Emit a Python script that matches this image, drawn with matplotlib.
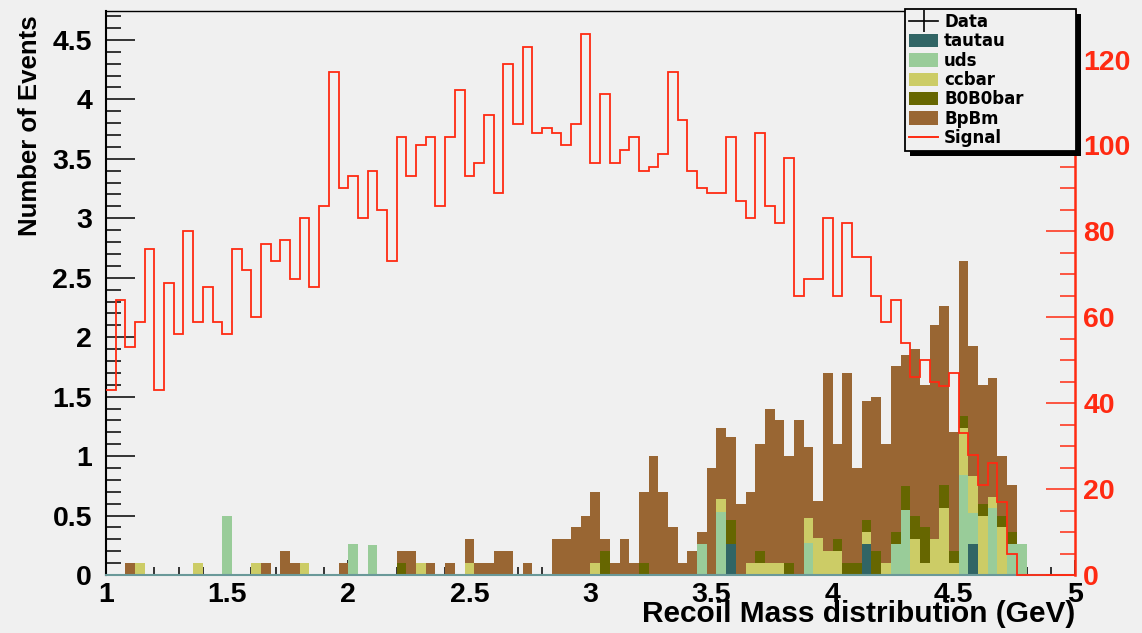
import matplotlib.pyplot as plt
import numpy as np
from matplotlib.lines import Line2D
from matplotlib.patches import Patch, Rectangle
from matplotlib.ticker import FixedLocator, FixedFormatter, MultipleLocator
from matplotlib.transforms import IdentityTransform

plt.rcParams['font.family'] = ['Liberation Sans', 'DejaVu Sans']
plt.rcParams['font.weight'] = 'bold'
plt.rcParams['axes.labelweight'] = 'bold'

# binning: 100 bins between 1 and 5 GeV
edges = np.linspace(1.0, 5.0, 101)

# background samples (weighted events per bin), stacked bottom to top
tautau = [0] * 64 + [0.26] + [0] * 13 + [0.26] + [0] * 10 + [0.26] + [0] * 10

uds = [0, 0, 0, 0, 0, 0, 0, 0, 0, 0,
       0, 0, 0.5, 0, 0, 0, 0, 0, 0, 0,
       0, 0, 0, 0, 0, 0.26, 0, 0.25, 0, 0,
       0, 0, 0, 0, 0, 0, 0, 0, 0, 0,
       0, 0, 0, 0, 0, 0, 0, 0, 0, 0,
       0, 0, 0, 0, 0, 0, 0, 0, 0, 0,
       0, 0.26, 0, 0.53, 0, 0, 0, 0, 0, 0,
       0, 0, 0.27, 0, 0, 0, 0, 0, 0, 0,
       0, 0.26, 0.55, 0, 0, 0, 0, 0, 0.84, 0.26,
       0, 0.56, 0, 0.26, 0.26, 0, 0, 0, 0, 0]

ccbar = [0, 0, 0, 0.1, 0, 0, 0, 0, 0, 0.1,
         0, 0, 0, 0, 0, 0.1, 0, 0, 0, 0,
         0.1, 0, 0, 0, 0, 0, 0, 0, 0, 0,
         0, 0, 0.1, 0, 0, 0, 0, 0.1, 0, 0,
         0, 0, 0, 0, 0, 0, 0, 0, 0, 0,
         0.1, 0, 0, 0, 0, 0, 0, 0, 0, 0,
         0, 0, 0, 0.11, 0, 0, 0.1, 0.1, 0.1, 0.1,
         0, 0, 0.21, 0.31, 0.2, 0.2, 0, 0, 0.1, 0,
         0.1, 0, 0, 0.3, 0.1, 0.3, 0.56, 0.1, 0.4, 0.31,
         0.5, 0.1, 0.4, 0, 0, 0, 0, 0, 0, 0]

b0b0bar = [0, 0, 0, 0, 0, 0, 0, 0, 0, 0,
           0, 0, 0, 0, 0, 0, 0, 0, 0, 0,
           0, 0, 0, 0, 0, 0, 0, 0, 0, 0,
           0.1, 0, 0, 0, 0, 0, 0, 0, 0, 0,
           0, 0, 0, 0, 0, 0, 0, 0, 0, 0,
           0, 0.2, 0, 0, 0, 0.1, 0, 0, 0, 0,
           0, 0, 0, 0, 0.2, 0, 0, 0.1, 0, 0,
           0.1, 0, 0, 0, 0, 0.1, 0.1, 0.1, 0.1, 0.2,
           0, 0.1, 0.2, 0.2, 0.3, 0, 0.2, 0.1, 0.1, 0,
           0.1, 0, 0.1, 0.1, 0, 0, 0, 0, 0, 0]

bpbm = [0, 0, 0.1, 0, 0, 0, 0, 0, 0, 0,
        0, 0, 0, 0, 0, 0, 0.1, 0, 0.2, 0.1,
        0, 0, 0, 0, 0.1, 0, 0, 0, 0, 0,
        0.1, 0.2, 0, 0.1, 0, 0.1, 0, 0.2, 0.1, 0.1,
        0.2, 0.2, 0, 0.1, 0, 0, 0.3, 0.3, 0.4, 0.5,
        0.6, 0.1, 0.1, 0.3, 0.1, 0.6, 1.0, 0.7, 0.4, 0.1,
        0.2, 0.1, 0.9, 0.6, 0.7, 0.6, 0.6, 0.9, 1.3, 1.2,
        0.9, 1.3, 0.6, 0.31, 1.5, 0.8, 1.6, 0.8, 1.0, 1.3,
        1.0, 1.4, 1.1, 1.4, 1.2, 1.8, 1.5, 1.0, 1.3, 1.1,
        1.0, 1.0, 0.5, 0.4, 0, 0, 0, 0, 0, 0]

# signal MC, read on the right-hand axis
signal = [43, 64, 53, 59, 76, 43, 68, 56, 80, 59,
          67, 59, 56, 76, 71, 60, 77, 73, 78, 69,
          83, 67, 86, 117, 90, 93, 83, 94, 85, 73,
          102, 93, 100, 102, 86, 102, 113, 93, 96, 107,
          89, 119, 105, 123, 103, 104, 103, 100, 105, 126,
          96, 112, 96, 99, 102, 94, 95, 98, 117, 106,
          94, 90, 89, 89, 102, 87, 83, 103, 86, 82,
          97, 65, 69, 69, 83, 65, 82, 74, 74, 65,
          59, 64, 54, 46, 50, 45, 44, 47, 33, 28,
          21, 26, 17, 5, 0, 0, 0, 0, 0, 0]

sample_names = ['tautau', 'uds', 'ccbar', 'B0B0bar', 'BpBm']
sample_colors = ['#316565', '#99cc99', '#cccc66', '#666600', '#996633']
signal_color = '#ff2a12'
bg_color = '#f0f0f0'

x_ticks = [1, 1.5, 2, 2.5, 3, 3.5, 4, 4.5, 5]
x_tick_labels = ['1', '1.5', '2', '2.5', '3', '3.5', '4', '4.5', '5']
y_ticks = [0, 0.5, 1, 1.5, 2, 2.5, 3, 3.5, 4, 4.5]
y_tick_labels = ['0', '0.5', '1', '1.5', '2', '2.5', '3', '3.5', '4', '4.5']
sig_ticks = [0, 20, 40, 60, 80, 100, 120]
sig_tick_labels = ['0', '20', '40', '60', '80', '100', '120']

fig = plt.figure(figsize=(11.42, 6.33), dpi=100, facecolor=bg_color)
ax = fig.add_axes([0.0928, 0.0916, 0.8485, 0.891])
ax.set_facecolor(bg_color)
ax.set_axisbelow(True)

# stacked backgrounds
bottom = np.zeros(len(edges) - 1)
for name, vals, col in zip(sample_names, [tautau, uds, ccbar, b0b0bar, bpbm], sample_colors):
    vals = np.asarray(vals, dtype=float)
    ax.bar(edges[:-1], vals, width=np.diff(edges), bottom=bottom, align='edge',
           color=col, edgecolor='none', linewidth=0)
    bottom += vals

ax.set_xlim(1, 5)
ax.set_ylim(0, 4.743)
ax.xaxis.set_major_locator(FixedLocator(x_ticks))
ax.xaxis.set_major_formatter(FixedFormatter(x_tick_labels))
ax.xaxis.set_minor_locator(MultipleLocator(0.1))
ax.yaxis.set_major_locator(FixedLocator(y_ticks))
ax.yaxis.set_major_formatter(FixedFormatter(y_tick_labels))
ax.yaxis.set_minor_locator(MultipleLocator(0.1))

ax.tick_params(axis='y', which='major', direction='in', length=21, width=1.1,
               labelsize=20.5, pad=10)
ax.tick_params(axis='y', which='minor', direction='in', length=10.8, width=1.1)
ax.tick_params(axis='x', which='major', direction='in', length=11, width=1.1,
               labelsize=20.5, pad=5)
ax.tick_params(axis='x', which='minor', direction='in', length=6, width=1.1)

ax.spines['right'].set_visible(False)
ax.spines['left'].set_linewidth(1.5)
ax.spines['top'].set_linewidth(1.0)
ax.spines['bottom'].set_color('#6a9999')
ax.spines['bottom'].set_linewidth(1.5)

ax.set_ylabel('Number of Events', fontsize=18.5, loc='top')
ax.yaxis.set_label_coords(-0.066, 0.993)
ax.set_xlabel('Recoil Mass distribution (GeV)', fontsize=21.5, loc='right')
ax.xaxis.set_label_coords(1.0, -0.045)

# signal on its own scale
ax2 = ax.twinx()
ax2.stairs(signal, edges, color=signal_color, linewidth=1.3, baseline=None, clip_on=False)
ax2.set_ylim(0, 131.3)
ax2.yaxis.set_major_locator(FixedLocator(sig_ticks))
ax2.yaxis.set_major_formatter(FixedFormatter(sig_tick_labels))
ax2.yaxis.set_minor_locator(MultipleLocator(5))
ax2.tick_params(axis='y', which='major', direction='in', length=21, width=1.1,
                colors=signal_color, labelsize=20.5, pad=6)
ax2.tick_params(axis='y', which='minor', direction='in', length=10.8, width=1.1,
                colors=signal_color)
for side in ['left', 'top', 'bottom']:
    ax2.spines[side].set_visible(False)
ax2.spines['right'].set_color(signal_color)
ax2.spines['right'].set_linewidth(1.8)

handles = [Line2D([], [], color='k', lw=1.2, marker='|', markersize=16, markeredgewidth=1.2)]
handles += [Patch(facecolor=c, edgecolor='none') for c in sample_colors]
handles += [Line2D([], [], color=signal_color, lw=1.4)]
labels = ['Data'] + sample_names + ['Signal']

leg = ax2.legend(handles, labels, loc='upper left', mode='expand',
                 bbox_to_anchor=(905 / 1142, 1 - 152 / 633, 171 / 1142, 143 / 633),
                 bbox_transform=fig.transFigure,
                 prop={'family': 'DejaVu Sans', 'weight': 'bold', 'size': 12},
                 frameon=True, fancybox=False, framealpha=1,
                 facecolor=bg_color, edgecolor='black', borderpad=0.25,
                 labelspacing=0.08, handlelength=1.75, handleheight=0.85,
                 handletextpad=0.35, borderaxespad=0)
leg.get_frame().set_linewidth(1.3)
leg.set_zorder(10)

# hard black drop shadow behind the legend box
fig.canvas.draw()
bb = leg.get_window_extent()
shadow = Rectangle((bb.x0 + 5, bb.y0 - 5), bb.width, bb.height, transform=IdentityTransform(),
                   facecolor='black', edgecolor='none', zorder=9, clip_on=False)
ax2.add_artist(shadow)

fig.savefig('out.png', dpi=100, facecolor=bg_color)
